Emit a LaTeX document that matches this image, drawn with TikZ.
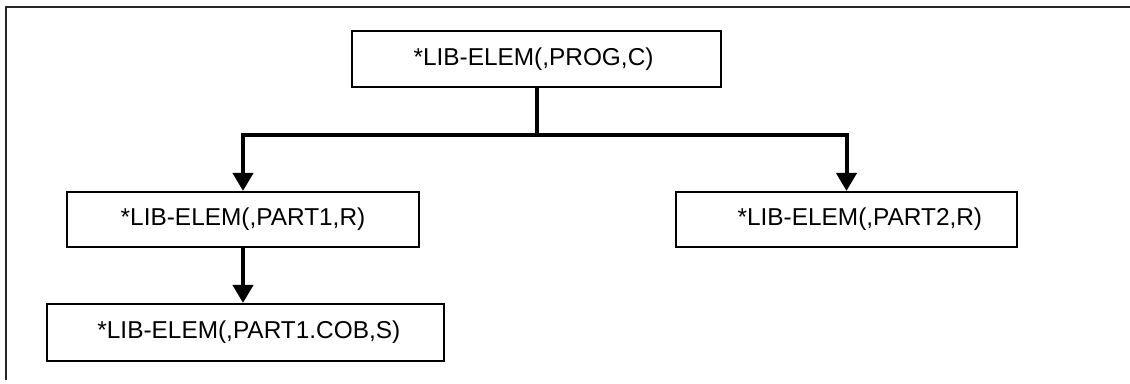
\documentclass[tikz,border=0pt]{standalone}
\usepackage{fontspec}
\setmainfont{Liberation Sans}
\usetikzlibrary{arrows.meta}
\begin{document}
\begin{tikzpicture}[x=0.75pt,y=-0.75pt,
  elem/.style={draw,line width=1.6pt,inner sep=0pt,font=\fontsize{18.3}{21}\selectfont},
  link/.style={line width=3pt,-{Triangle[width=15pt,length=13.5pt]}},
  stem/.style={line width=3pt},
  frame/.style={line width=1.2pt,black!85}]
\useasboundingbox (0,0) rectangle (1130,383);
\coordinate (f1) at (6,380);
\coordinate (f2) at (6,7);
\coordinate (f3) at (1130,7);
\draw[frame] (f1) -- (f2) -- (f3);
\node[elem,minimum width=276.75pt,minimum height=42pt] (top) at (536.5,59) {*LIB-ELEM(,PROG,C)\hspace*{4.5pt}};
\node[elem,minimum width=264pt,minimum height=41.25pt] (p1) at (243,219.5) {*LIB-ELEM(,PART1,R)};
\node[elem,minimum width=255.75pt,minimum height=41.25pt] (p2) at (846.5,219.5) {\hspace*{20pt}*LIB-ELEM(,PART2,R)};
\node[elem,minimum width=297.75pt,minimum height=42.75pt] (cob) at (245.5,332.5) {\hspace*{5pt}*LIB-ELEM(,PART1.COB,S)};
\coordinate (j) at (536.5,135);
\draw[stem] (top.south) -- (j);
\draw[link] (j) -| (p1.north);
\draw[link] (j) -| (p2.north);
\draw[link] (p1.south) -- (p1.south |- cob.north);
\end{tikzpicture}
\end{document}
